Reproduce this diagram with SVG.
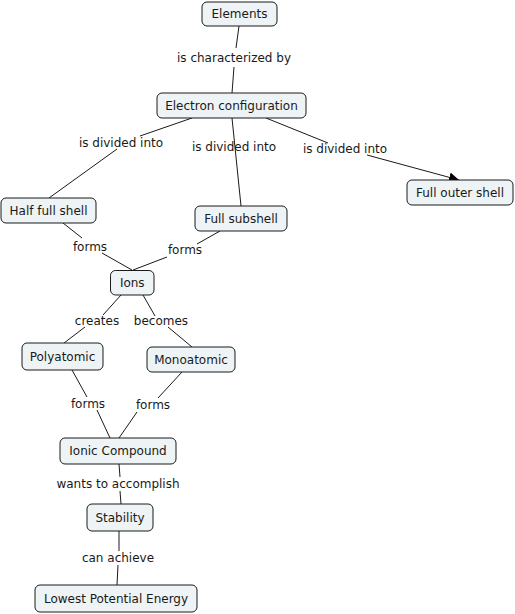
<svg xmlns="http://www.w3.org/2000/svg" width="515" height="614" viewBox="0 0 515 614">
<defs>
<style>
.n rect{fill:#eef3f5;stroke:#1a1a1a;stroke-width:1}
text{font-family:"DejaVu Sans",Verdana,sans-serif;font-size:12px;fill:#1a1a1a;text-anchor:middle}
.c line{stroke:#1a1a1a;stroke-width:1}
</style>
<marker id="arr" viewBox="0 0 10 10" refX="10" refY="5" markerWidth="10" markerHeight="10" markerUnits="userSpaceOnUse" orient="auto"><path d="M0,0 L10,5 L0,10 Z" fill="#000"/></marker>
</defs>
<rect width="515" height="614" fill="#fff"/>
<g id="connectors" class="c">
<line x1="239" y1="26" x2="236" y2="48"/><line x1="234" y1="67" x2="232" y2="93"/>
<line x1="192" y1="118" x2="140" y2="136"/><line x1="117" y1="149" x2="49" y2="198"/>
<line x1="232" y1="118" x2="241" y2="206"/>
<line x1="266" y1="118" x2="328" y2="143"/><line x1="367" y1="155" x2="459" y2="180" marker-end="url(#arr)"/>
<line x1="63" y1="223" x2="82" y2="238"/><line x1="102" y1="253" x2="132" y2="270"/>
<line x1="220" y1="231" x2="197" y2="244"/><line x1="167" y1="257" x2="133" y2="270"/>
<line x1="121" y1="295" x2="103" y2="315"/><line x1="85" y1="327" x2="64" y2="343"/>
<line x1="143" y1="295" x2="155" y2="316"/><line x1="168" y1="327" x2="192" y2="347"/>
<line x1="72" y1="370" x2="87" y2="397"/><line x1="97" y1="410" x2="110" y2="438"/>
<line x1="182" y1="372" x2="158" y2="398"/><line x1="137" y1="412" x2="119" y2="438"/>
<line x1="119" y1="464" x2="120" y2="477"/><line x1="120" y1="491" x2="121" y2="504"/>
<line x1="119" y1="531" x2="119" y2="551"/><line x1="118" y1="565" x2="117" y2="585"/>
<text x="234" y="62">is characterized by</text>
<text x="121" y="147">is divided into</text>
<text x="234" y="151">is divided into</text>
<text x="345" y="153">is divided into</text>
<text x="90" y="251">forms</text>
<text x="185" y="254">forms</text>
<text x="97" y="325">creates</text>
<text x="161" y="325">becomes</text>
<text x="88" y="408">forms</text>
<text x="153" y="409">forms</text>
<text x="118" y="488">wants to accomplish</text>
<text x="118" y="562">can achieve</text>
</g>
<g id="elements" class="n"><rect x="202" y="2" width="75" height="24" rx="5"/><text x="239.5" y="18">Elements</text></g>
<g id="electron-configuration" class="n"><rect x="157" y="93" width="149" height="25" rx="5"/><text x="231.5" y="109.5">Electron configuration</text></g>
<g id="half-full-shell" class="n"><rect x="1" y="198" width="95" height="25" rx="5"/><text x="48.5" y="214.5">Half full shell</text></g>
<g id="full-subshell" class="n"><rect x="195" y="206" width="92" height="25" rx="5"/><text x="241" y="222.5">Full subshell</text></g>
<g id="full-outer-shell" class="n"><rect x="407" y="180" width="106" height="25" rx="5"/><text x="460" y="196.5">Full outer shell</text></g>
<g id="ions" class="n"><rect x="110.5" y="270.5" width="43.5" height="24.5" rx="5"/><text x="132.25" y="287">Ions</text></g>
<g id="polyatomic" class="n"><rect x="22" y="343" width="81" height="27" rx="5"/><text x="62.5" y="360.5">Polyatomic</text></g>
<g id="monoatomic" class="n"><rect x="147" y="347" width="88" height="25" rx="5"/><text x="191" y="363.5">Monoatomic</text></g>
<g id="ionic-compound" class="n"><rect x="60" y="438" width="116" height="26" rx="5"/><text x="118" y="455">Ionic Compound</text></g>
<g id="stability" class="n"><rect x="87" y="504" width="66" height="27" rx="5"/><text x="120" y="521.5">Stability</text></g>
<g id="lowest-potential-energy" class="n"><rect x="35" y="585" width="162" height="27" rx="5"/><text x="116" y="602.5">Lowest Potential Energy</text></g>
</svg>
